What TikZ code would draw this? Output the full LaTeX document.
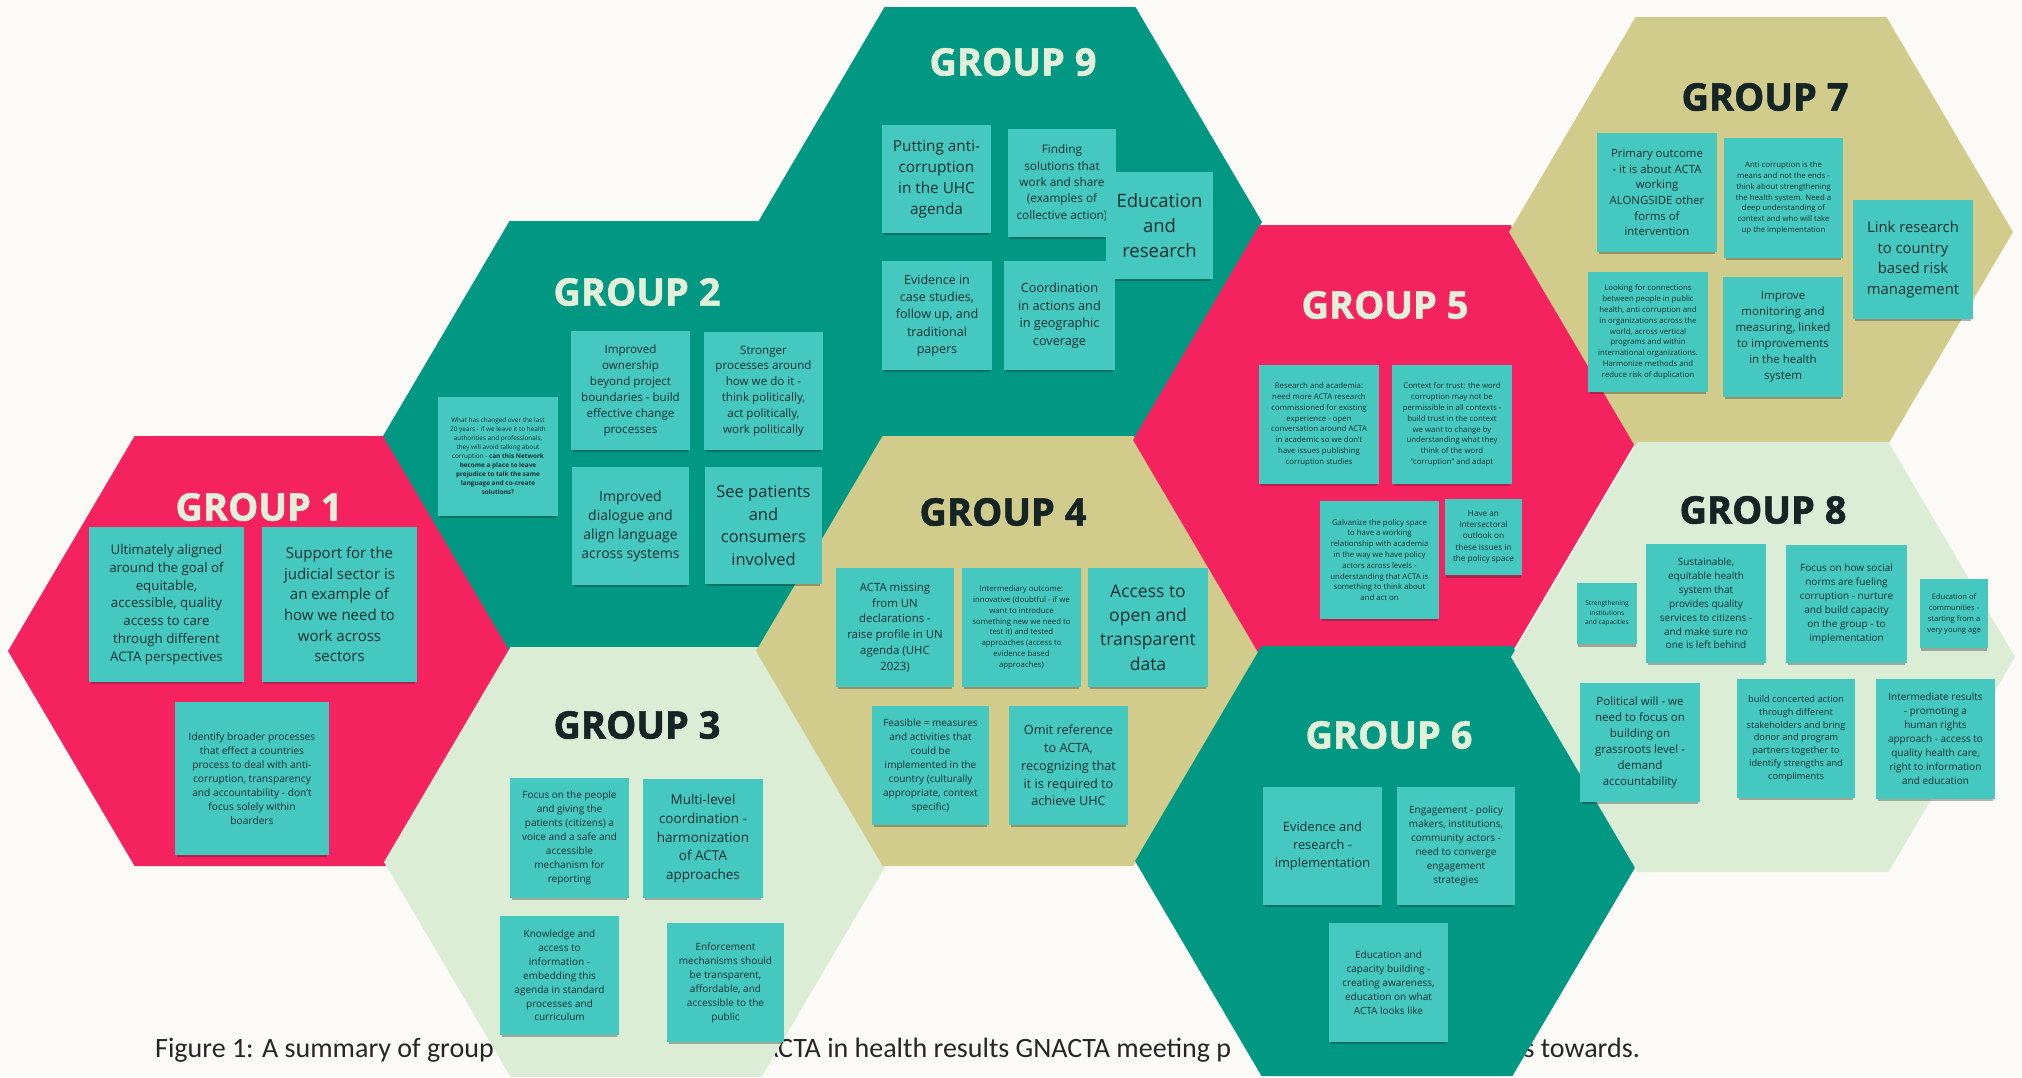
\documentclass[tikz,border=0pt]{standalone}
\usepackage{fontspec}
\setmainfont{Open Sans}
\newfontfamily\titlefont{Open Sans}[BoldFeatures={FakeBold=1.4}]
\newfontfamily\capfont{Carlito}
\usetikzlibrary{shadows}

\definecolor{paper}{HTML}{FCFAF7}
\definecolor{hexpink}{HTML}{F4235F}
\definecolor{hexteal}{HTML}{009882}
\definecolor{hextan}{HTML}{D1CC8B}
\definecolor{hexmint}{HTML}{DCEDD6}
\definecolor{notefill}{HTML}{45C8C0}
\definecolor{noteink}{HTML}{17302F}
\definecolor{titlelight}{HTML}{E3EFD8}
\definecolor{titledark}{HTML}{152425}
\definecolor{capink}{HTML}{262626}

\tikzset{
  hexcell/.style={fill=#1, draw=#1, line width=12pt, line join=miter},
  grouptitle/.style={font=\titlefont\fontsize{38}{40}\selectfont\bfseries, inner sep=0pt, anchor=center},
  onlight/.style={text=titledark},
  ondark/.style={text=titlelight},
  sticky/.style={fill=notefill, text=noteink, align=center, inner sep=0pt,
    drop shadow={shadow xshift=0pt, shadow yshift=-4pt, opacity=0.35, fill=black!85, shadow scale=0.97}},
  caption/.style={font=\capfont\fontsize{28}{32}\selectfont, text=capink, inner sep=0pt},
}

% hexagonal cell: centre x, centre y, colour (the thick outline closes the seams)
\newcommand\hexcellat[3]{%
  \filldraw[hexcell=#3] ({#1+245},#2) -- ({#1+122},{#2+209}) -- ({#1-122},{#2+209})
    -- ({#1-245},#2) -- ({#1-122},{#2-209}) -- ({#1+122},{#2-209}) -- cycle;}

% sticky note: name, x0, y0, x1, y1, font size, line skip, text
\newcommand\postit[8]{%
  \node[sticky, minimum width={#4-#2}, minimum height={#5-#3},
        font=\fontsize{#6}{#7}\selectfont] (#1) at ({(#2+#4)/2},{(#3+#5)/2}) {#8};}

\begin{document}
\begin{tikzpicture}[x=1pt, y=-1pt]
\useasboundingbox (0,0) rectangle (2022,1077);
\fill[paper] (0,0) rectangle (2022,1077);

% caption line, partly covered by the cells
\node[caption, anchor=base west] (capA) at (155,1057) {Figure 1: A summary of group};
\node[caption, anchor=base west] (capB) at (762,1057) {ACTA in health results GNACTA meeting p};
\node[caption, anchor=base east] (capC) at (1640,1057) {s towards.};

% honeycomb
\hexcellat{260}{651}{hexpink}
\hexcellat{635}{436}{hexteal}
\hexcellat{1010}{222}{hexteal}
\hexcellat{636}{862}{hexmint}
\hexcellat{1008}{651}{hextan}
\hexcellat{1385}{440}{hexpink}
\hexcellat{1387}{861}{hexteal}
\hexcellat{1761}{232}{hextan}
\hexcellat{1763}{657}{hexmint}

% group titles
\node[grouptitle, ondark]  (t1) at (259,507) {GROUP 1};
\node[grouptitle, ondark]  (t2) at (637,292) {GROUP 2};
\node[grouptitle, onlight] (t3) at (637,725) {GROUP 3};
\node[grouptitle, onlight] (t4) at (1003,512) {GROUP 4};
\node[grouptitle, ondark]  (t5) at (1385,305) {GROUP 5};
\node[grouptitle, ondark]  (t6) at (1389,735) {GROUP 6};
\node[grouptitle, onlight] (t7) at (1765,97) {GROUP 7};
\node[grouptitle, onlight] (t8) at (1763,510) {GROUP 8};
\node[grouptitle, ondark]  (t9) at (1013,62) {GROUP 9};

% group 1
\postit{g1a}{89}{527}{244}{682}{13.3}{17.9}{Ultimately aligned\\around the goal of\\equitable,\\accessible, quality\\access to care\\through different\\ACTA perspectives}
\postit{g1b}{262}{527}{417}{682}{15}{20.7}{Support for the\\judicial sector is\\an example of\\how we need to\\work across\\sectors}
\postit{g1c}{175}{702}{329}{855}{10.2}{14}{Identify broader processes\\that effect a countries\\process to deal with anti-\\corruption, transparency\\and accountability - don't\\focus solely within\\boarders}

% group 2
\postit{g2a}{438}{397}{558}{516}{6.4}{9}{What has changed over the last\\20 years - if we leave it to health\\authorities and professionals,\\they will avoid talking about\\corruption - \textbf{can this Network}\\\textbf{become a place to leave}\\\textbf{prejudice to talk the same}\\\textbf{language and co-create}\\\textbf{solutions?}}
\postit{g2b}{571}{331}{690}{450}{11.6}{15.9}{Improved\\ownership\\beyond project\\boundaries - build\\effective change\\processes}
\postit{g2c}{704}{332}{823}{450}{11.6}{15.9}{Stronger\\processes around\\how we do it -\\think politically,\\act politically,\\work politically}
\postit{g2d}{572}{467}{689}{585}{14}{19}{Improved\\dialogue and\\align language\\across systems}
\postit{g2e}{705}{467}{822}{584}{16.5}{22.8}{See patients\\and\\consumers\\involved}

% group 9
\postit{g9a}{882}{125}{991}{233}{15.3}{21}{Putting anti-\\corruption\\in the UHC\\agenda}
\postit{g9b}{1008}{129}{1116}{237}{11.8}{16.4}{Finding\\solutions that\\work and share\\(examples of\\collective action)}
\postit{g9c}{1106}{172}{1213}{279}{18.5}{25}{Education\\and\\research}
\postit{g9d}{882}{261}{992}{370}{12.5}{17.3}{Evidence in\\case studies,\\follow up, and\\traditional\\papers}
\postit{g9e}{1004}{261}{1115}{370}{12.7}{17.6}{Coordination\\in actions and\\in geographic\\coverage}

% group 3
\postit{g3a}{510}{778}{629}{898}{10}{13.9}{Focus on the people\\and giving the\\patients (citizens) a\\voice and a safe and\\accessible\\mechanism for\\reporting}
\postit{g3b}{643}{779}{763}{898}{13.5}{18.7}{Multi-level\\coordination -\\harmonization\\of ACTA\\approaches}
\postit{g3c}{500}{916}{619}{1035}{10}{13.9}{Knowledge and\\access to\\information -\\embedding this\\agenda in standard\\processes and\\curriculum}
\postit{g3d}{667}{923}{784}{1042}{10}{14}{Enforcement\\mechanisms should\\be transparent,\\affordable, and\\accessible to the\\public}

% group 4
\postit{g4a}{836}{568}{954}{687}{11.4}{15.8}{ACTA missing\\from UN\\declarations -\\raise profile in UN\\agenda (UHC\\2023)}
\postit{g4b}{962}{568}{1081}{687}{7.8}{10.8}{Intermediary outcome:\\innovative (doubtful - if we\\want to introduce\\something new we need to\\test it) and tested\\approaches (access to\\evidence based\\approaches)}
\postit{g4c}{1088}{568}{1208}{687}{17.5}{24.4}{Access to\\open and\\transparent\\data}
\postit{g4d}{872}{706}{989}{825}{10}{14}{Feasible = measures\\and activities that\\could be\\implemented in the\\country (culturally\\appropriate, context\\specific)}
\postit{g4e}{1009}{706}{1128}{825}{12.7}{17.7}{Omit reference\\to ACTA,\\recognizing that\\it is required to\\achieve UHC}

% group 5
\postit{g5a}{1259}{365}{1379}{484}{7.8}{10.9}{Research and academia:\\need more ACTA research\\commissioned for existing\\experience - open\\conversation around ACTA\\in academic so we don't\\have issues publishing\\corruption studies}
\postit{g5b}{1392}{365}{1512}{484}{7.8}{10.9}{Context for trust: the word\\corruption may not be\\permissible in all contexts -\\build trust in the context\\we want to change by\\understanding what they\\think of the word\\``corruption'' and adapt}
\postit{g5c}{1320}{501}{1439}{619}{7.8}{10.8}{Galvanize the policy space\\to have a working\\relationship with academia\\in the way we have policy\\actors across levels -\\understanding that ACTA is\\something to think about\\and act on}
\postit{g5d}{1445}{499}{1522}{575}{8.2}{11.3}{Have an\\intersectoral\\outlook on\\these issues in\\the policy space}

% group 6
\postit{g6a}{1263}{787}{1382}{905}{12.8}{17.8}{Evidence and\\research -\\implementation}
\postit{g6b}{1397}{787}{1515}{905}{10}{13.9}{Engagement - policy\\makers, institutions,\\community actors -\\need to converge\\engagement\\strategies}
\postit{g6c}{1329}{923}{1448}{1042}{10}{13.9}{Education and\\capacity building -\\creating awareness,\\education on what\\ACTA looks like}

% group 7
\postit{g7a}{1597}{133}{1717}{252}{11.4}{15.7}{Primary outcome\\- it is about ACTA\\working\\ALONGSIDE other\\forms of\\intervention}
\postit{g7b}{1724}{138}{1843}{258}{7.8}{10.8}{Anti corruption is the\\means and not the ends -\\think about strengthening\\the health system. Need a\\deep understanding of\\context and who will take\\up the implementation}
\postit{g7c}{1853}{200}{1973}{319}{14.8}{20.6}{Link research\\to country\\based risk\\management}
\postit{g7d}{1588}{272}{1708}{392}{7.8}{10.8}{Looking for connections\\between people in public\\health, anti corruption and\\in organizations across the\\world, across vertical\\programs and within\\international organizations.\\Harmonize methods and\\reduce risk of duplication}
\postit{g7e}{1723}{277}{1843}{397}{11.5}{15.9}{Improve\\monitoring and\\measuring, linked\\to improvements\\in the health\\system}

% group 8
\postit{g8a}{1577}{583}{1637}{644}{6.6}{9.5}{Strengthening\\institutions\\and capacities}
\postit{g8b}{1646}{544}{1766}{663}{10}{13.9}{Sustainable,\\equitable health\\system that\\provides quality\\services to citizens -\\and make sure no\\one is left behind}
\postit{g8c}{1786}{545}{1907}{663}{10}{13.9}{Focus on how social\\norms are fueling\\corruption - nurture\\and build capacity\\on the group - to\\implementation}
\postit{g8d}{1920}{579}{1988}{648}{7.6}{11}{Education of\\communities -\\starting from a\\very young age}
\postit{g8e}{1580}{683}{1700}{802}{11.5}{16}{Political will - we\\need to focus on\\building on\\grassroots level -\\demand\\accountability}
\postit{g8f}{1737}{679}{1855}{798}{9.2}{12.8}{build concerted action\\through different\\stakeholders and bring\\donor and program\\partners together to\\identify strengths and\\compliments}
\postit{g8g}{1876}{679}{1995}{799}{10}{14}{Intermediate results\\- promoting a\\human rights\\approach - access to\\quality health care,\\right to information\\and education}
\end{tikzpicture}
\end{document}
